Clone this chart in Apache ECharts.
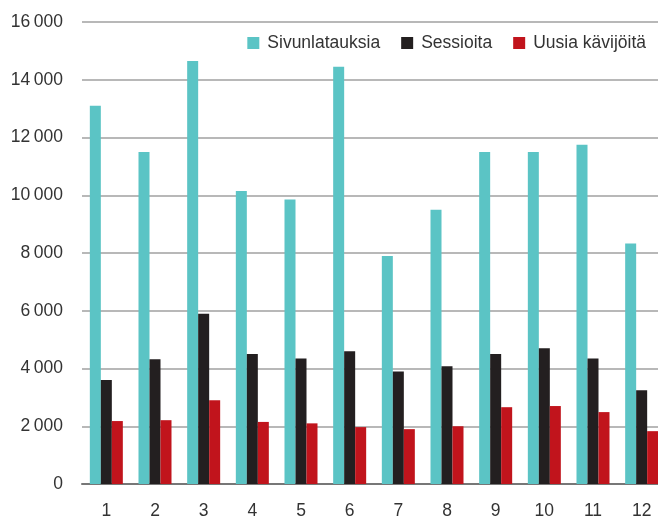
<!DOCTYPE html>
<html>
<head>
<meta charset="utf-8">
<script src="https://cdn.jsdelivr.net/npm/echarts@6/dist/echarts.min.js"></script>
<style>
  html, body { margin: 0; padding: 0; background: #fff; overflow: hidden; }
  #main { width: 658px; height: 516px; }
</style>
</head>
<body>
<div id="main"></div>
<script>
// kuukaudet
var months = ['1', '2', '3', '4', '5', '6', '7', '8', '9', '10', '11', '12'];
var sivunlatauksia = [13100, 11500, 14650, 10150, 9850, 14450, 7900, 9500, 11500, 11500, 11750, 8330];
var sessioita = [3600, 4320, 5900, 4500, 4350, 4600, 3900, 4080, 4500, 4700, 4350, 3250];
var uusiaKavijoita = [2180, 2210, 2900, 2150, 2100, 1970, 1900, 2000, 2660, 2700, 2490, 1830];
var seriesNames = ['Sivunlatauksia', 'Sessioita', 'Uusia kävijöitä'];
var colors = ['#5bc4c5', '#231f20', '#c1141c'];

var font = '"Liberation Sans", Arial, sans-serif';

var myChart = echarts.init(document.getElementById('main'));

// tuhaterotin ohuella välilyönnillä
function fmt(v) {
  if (v < 1000) return String(v);
  var s = String(v);
  return s.slice(0, s.length - 3) + '\u2009' + s.slice(s.length - 3);
}

var option = {
  animation: false,
  color: colors,
  legend: {
    data: seriesNames,
    right: 7,
    top: 29,
    icon: 'rect',
    itemWidth: 12,
    itemHeight: 12,
    itemGap: 21,
    textStyle: { fontFamily: font, fontSize: 17.5, color: '#333', padding: [0, 0, 0, 3] }
  },
  // plot runs past the right edge of the canvas, labels may go past the bottom
  grid: {
    left: 82,
    top: 22,
    bottom: 32,
    width: 584,
    outerBoundsMode: 'none'
  },
  xAxis: {
    type: 'category',
    data: months,
    axisTick: { show: false },
    axisLine: { lineStyle: { color: '#777', width: 2 } },
    axisLabel: { margin: 18, fontFamily: font, fontSize: 17.5, color: '#333' }
  },
  yAxis: {
    type: 'value',
    min: 0,
    max: 16000,
    interval: 2000,
    axisLabel: {
      margin: 19,
      fontFamily: font,
      fontSize: 17.5,
      color: '#333',
      formatter: fmt
    },
    splitLine: { lineStyle: { color: '#a0a0a0', width: 1.5 } }
  },
  series: [
    { name: seriesNames[0], type: 'bar', data: sivunlatauksia, barWidth: 11, barGap: '0%' },
    { name: seriesNames[1], type: 'bar', data: sessioita, barWidth: 11, barGap: '0%' },
    { name: seriesNames[2], type: 'bar', data: uusiaKavijoita, barWidth: 11, barGap: '0%' }
  ]
};

myChart.setOption(option);
</script>
</body>
</html>
